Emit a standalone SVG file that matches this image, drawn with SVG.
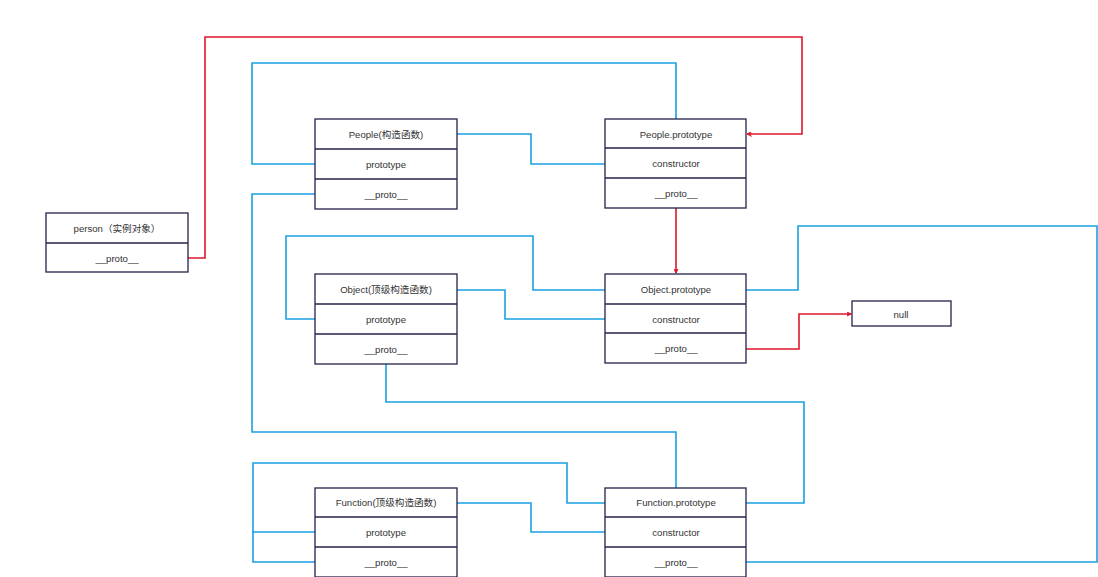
<svg xmlns="http://www.w3.org/2000/svg" width="1098" height="577" viewBox="0 0 1098 577">
<defs>
<style>
.box{fill:#fff;stroke:#23234a;stroke-width:1.3}
.div{stroke:#23234a;stroke-width:1.3}
.t{font-family:"Liberation Sans","Noto Sans CJK SC",sans-serif;font-size:9.6px;fill:#333;text-anchor:middle;dominant-baseline:central}
.b{fill:none;stroke:#1ba1e2;stroke-width:1.6}
.r{fill:none;stroke:#e0162b;stroke-width:1.6}
</style>
<marker id="ar" viewBox="0 0 10 10" refX="9" refY="5" markerWidth="5" markerHeight="5" orient="auto" markerUnits="userSpaceOnUse">
<path d="M0,0 L10,5 L0,10 L3,5 Z" fill="#e0162b" stroke="#e0162b" stroke-width="1"/>
</marker>
</defs>
<rect width="1098" height="577" fill="#fff"/>
<g id="connectors">
<path class="r" d="M188,258 H205 V37 H802 V134 H747" marker-end="url(#ar)"/>
<path class="b" d="M676,119 V63 H252 V164 H315"/>
<path class="b" d="M457,134 H531 V164 H605"/>
<path class="b" d="M315,194 H252 V432 H676 V488"/>
<path class="r" d="M676,208 V273" marker-end="url(#ar)"/>
<path class="b" d="M315,319 H286 V236 H533 V290 H605"/>
<path class="b" d="M457,290 H505 V319 H605"/>
<path class="b" d="M746,290 H798 V226 H1097 V562 H746"/>
<path class="r" d="M746,349 H799 V314 H851" marker-end="url(#ar)"/>
<path class="b" d="M386,364 V402 H804 V503 H746"/>
<path class="b" d="M315,532 H253 V463 H567 V503 H605"/>
<path class="b" d="M315,562 H253 V532"/>
<path class="b" d="M457,503 H531 V532 H605"/>
</g>
<g id="person">
<rect class="box" x="46" y="213" width="142" height="59"/>
<line class="div" x1="46" y1="243" x2="188" y2="243"/>
<text class="t" x="117" y="228">person（实例对象）</text>
<text class="t" x="117" y="258">__proto__</text>
</g>
<g id="people">
<rect class="box" x="315" y="119" width="142" height="90"/>
<line class="div" x1="315" y1="149" x2="457" y2="149"/>
<line class="div" x1="315" y1="179" x2="457" y2="179"/>
<text class="t" x="386" y="134">People(构造函数)</text>
<text class="t" x="386" y="164">prototype</text>
<text class="t" x="386" y="194">__proto__</text>
</g>
<g id="people-prototype">
<rect class="box" x="605" y="119" width="141" height="89"/>
<line class="div" x1="605" y1="148" x2="746" y2="148"/>
<line class="div" x1="605" y1="178" x2="746" y2="178"/>
<text class="t" x="676" y="134">People.prototype</text>
<text class="t" x="676" y="163">constructor</text>
<text class="t" x="676" y="193">__proto__</text>
</g>
<g id="object">
<rect class="box" x="315" y="274" width="142" height="90"/>
<line class="div" x1="315" y1="304" x2="457" y2="304"/>
<line class="div" x1="315" y1="334" x2="457" y2="334"/>
<text class="t" x="386" y="289">Object(顶级构造函数)</text>
<text class="t" x="386" y="319">prototype</text>
<text class="t" x="386" y="349">__proto__</text>
</g>
<g id="object-prototype">
<rect class="box" x="605" y="274" width="141" height="89"/>
<line class="div" x1="605" y1="304" x2="746" y2="304"/>
<line class="div" x1="605" y1="333" x2="746" y2="333"/>
<text class="t" x="676" y="289">Object.prototype</text>
<text class="t" x="676" y="319">constructor</text>
<text class="t" x="676" y="348">__proto__</text>
</g>
<g id="null">
<rect class="box" x="852" y="301" width="99" height="25"/>
<text class="t" x="901" y="314">null</text>
</g>
<g id="function">
<rect class="box" x="315" y="488" width="142" height="89"/>
<line class="div" x1="315" y1="517" x2="457" y2="517"/>
<line class="div" x1="315" y1="547" x2="457" y2="547"/>
<text class="t" x="386" y="502">Function(顶级构造函数)</text>
<text class="t" x="386" y="532">prototype</text>
<text class="t" x="386" y="562">__proto__</text>
</g>
<g id="function-prototype">
<rect class="box" x="605" y="488" width="141" height="89"/>
<line class="div" x1="605" y1="517" x2="746" y2="517"/>
<line class="div" x1="605" y1="547" x2="746" y2="547"/>
<text class="t" x="676" y="502">Function.prototype</text>
<text class="t" x="676" y="532">constructor</text>
<text class="t" x="676" y="562">__proto__</text>
</g>
</svg>
